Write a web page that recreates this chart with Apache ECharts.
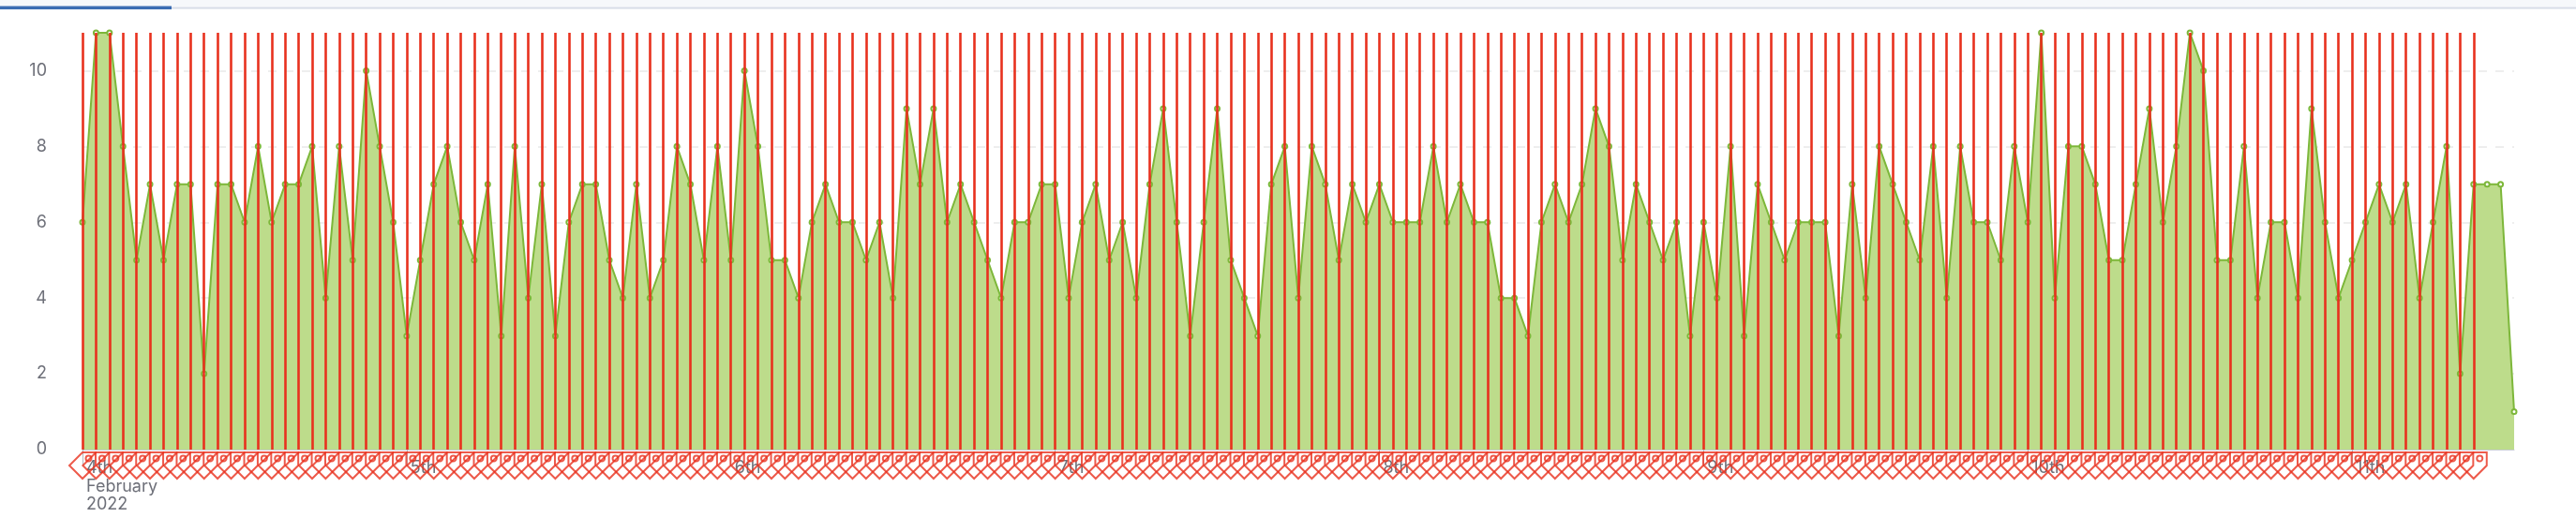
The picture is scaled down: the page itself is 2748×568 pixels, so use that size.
<!DOCTYPE html>
<html>
<head>
<meta charset="utf-8">
<script src="https://cdn.jsdelivr.net/npm/echarts@6/dist/echarts.min.js"></script>
<style>
  html, body { margin: 0; padding: 0; background: #fff; }
  #chart { width: 2748px; height: 568px; }
</style>
</head>
<body>
<div id="chart"></div>
<script>
// hourly readings from 4 Feb 2022 00:00
const startDate = new Date(2022, 1, 4, 0, 0, 0);
const values = [
    6, 11, 11, 8, 5, 7, 5, 7, 7, 2, 7, 7, 6, 8, 6, 7, 7, 8, 4, 8, 5, 10, 8, 6,
    3, 5, 7, 8, 6, 5, 7, 3, 8, 4, 7, 3, 6, 7, 7, 5, 4, 7, 4, 5, 8, 7, 5, 8,
    5, 10, 8, 5, 5, 4, 6, 7, 6, 6, 5, 6, 4, 9, 7, 9, 6, 7, 6, 5, 4, 6, 6, 7,
    7, 4, 6, 7, 5, 6, 4, 7, 9, 6, 3, 6, 9, 5, 4, 3, 7, 8, 4, 8, 7, 5, 7, 6,
    7, 6, 6, 6, 8, 6, 7, 6, 6, 4, 4, 3, 6, 7, 6, 7, 9, 8, 5, 7, 6, 5, 6, 3,
    6, 4, 8, 3, 7, 6, 5, 6, 6, 6, 3, 7, 4, 8, 7, 6, 5, 8, 4, 8, 6, 6, 5, 8,
    6, 11, 4, 8, 8, 7, 5, 5, 7, 9, 6, 8, 11, 10, 5, 5, 8, 4, 6, 6, 4, 9, 6, 4,
    5, 6, 7, 6, 7, 4, 6, 8, 2, 7, 7, 7, 1
];
// number of hours that carry a red marker line + tag
const markedHours = 178;
const monthNames = ['January', 'February', 'March', 'April', 'May', 'June', 'July',
    'August', 'September', 'October', 'November', 'December'];

const categories = values.map((v, i) => String(startDate.getTime() + i * 3600 * 1000));
const markedCats = categories.slice(0, markedHours);

function ordinal(n) {
    const s = ['th', 'st', 'nd', 'rd'];
    const v = n % 100;
    return n + (s[(v - 20) % 10] || s[v] || s[0]);
}

// tag: diamond with squared top-right corner and a hole
const tagSymbol = 'path://M14,0 L28,0 L28,14 L14,28 L0,14 Z M23.5,6.5 A3,3 0 1 1 17.5,6.5 A3,3 0 1 1 23.5,6.5 Z';
const red = '#e8311e';

const myChart = echarts.init(document.getElementById('chart'));
myChart.setOption({
    animation: false,
    textStyle: { fontFamily: 'Inter, "Noto Sans", sans-serif' },
    graphic: [
        { type: 'rect', left: 0, top: 0, shape: { width: 2748, height: 7 }, style: { fill: '#f6f8fb' } },
        { type: 'rect', left: 0, top: 7.5, shape: { width: 2748, height: 2 }, style: { fill: '#d6dce7' } },
        { type: 'rect', left: 0, top: 6.5, shape: { width: 183, height: 3.5 }, style: { fill: '#3b6db3' } }
    ],
    grid: {
        left: 88,
        right: 66,
        top: 35,
        bottom: 88
    },
    xAxis: {
        type: 'category',
        boundaryGap: false,
        data: categories,
        axisLine: { lineStyle: { color: '#c8ccd4' } },
        axisTick: {
            interval: (i) => i % 24 === 0,
            length: 18,
            lineStyle: { color: '#b4b8c0' }
        },
        axisLabel: {
            interval: (i) => i % 24 === 0,
            align: 'left',
            margin: 10,
            padding: [0, 0, 0, 4],
            color: '#6e7079',
            fontSize: 18,
            lineHeight: 19.5,
            formatter: function (value, index) {
                const d = new Date(Number(value));
                let txt = ordinal(d.getDate());
                if (index === 0) {
                    txt += '\n' + monthNames[d.getMonth()] + '\n' + d.getFullYear();
                }
                return txt;
            }
        }
    },
    yAxis: {
        type: 'value',
        min: 0,
        max: 'dataMax',
        interval: 2,
        axisLabel: {
            color: '#6e7079',
            fontSize: 18,
            margin: 38,
            showMaxLabel: false
        },
        splitLine: {
            showMaxLine: false,
            lineStyle: { color: '#eeeeee', width: 2, type: [9, 9] }
        }
    },
    series: [{
        type: 'line',
        data: values,
        symbol: 'emptyCircle',
        symbolSize: 5,
        showSymbol: true,
        lineStyle: { color: '#7db73a', width: 2 },
        itemStyle: { color: '#7db73a' },
        areaStyle: { color: '#bddc8b', opacity: 1 },
        markLine: {
            silent: true,
            symbol: ['none', 'none'],
            label: { show: false },
            lineStyle: { color: red, width: 2.6, type: 'solid' },
            emphasis: { disabled: true },
            data: markedCats.map(c => ({ xAxis: c }))
        }
    }, {
        type: 'scatter',
        silent: true,
        clip: false,
        data: markedCats.map(c => [c, 0]),
        symbol: tagSymbol,
        symbolSize: 28,
        symbolOffset: [0, 17],
        itemStyle: { color: 'rgba(255,255,255,0)', borderColor: red, borderWidth: 2 },
        emphasis: { disabled: true },
        z: 5
    }]
});
</script>
</body>
</html>
